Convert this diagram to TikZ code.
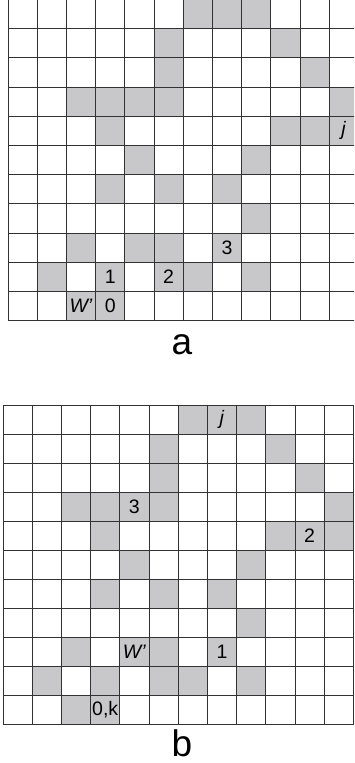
\documentclass[tikz,border=0pt]{standalone}
\usepackage{fontspec}
\setmainfont{Liberation Sans}
\definecolor{cellfill}{RGB}{200,200,202}
\definecolor{gridline}{RGB}{50,50,50}
\tikzset{
  gridstroke/.style={draw=gridline, line width=1pt},
  celllabel/.style={inner sep=0pt, font=\fontsize{19.5}{22}\selectfont},
  captionlabel/.style={inner sep=0pt, font=\fontsize{37}{40}\selectfont},
}
\newcommand{\shadedcells}{6/0,7/0,8/0,5/1,9/1,5/2,10/2,2/3,3/3,4/3,5/3,11/3,3/4,9/4,10/4,11/4,4/5,8/5,3/6,5/6,7/6,8/7,2/8,4/8,5/8,7/8,1/9,3/9,5/9,6/9,8/9,2/10,3/10}
\begin{document}
\begin{tikzpicture}[x=1pt,y=-1pt]
\useasboundingbox (0,0) rectangle (354,763);
\begin{scope}
\clip (0,0) rectangle (354,763);
% grid a
\begin{scope}[shift={(8,-0.6)}, x=29.2pt, y=-29.2pt]
  \foreach \c/\r in \shadedcells {\fill[cellfill] (\c,\r) rectangle ++(1,1);}
  \foreach \i in {0,...,12} {\draw[gridstroke] (\i,0) -- (\i,11);}
  \foreach \j in {0,...,11} {\draw[gridstroke] (0,\j) -- (12,\j);}
  \node[celllabel] (aj) at (11.5,4.5) {\textit{j}};
  \node[celllabel] (athree) at (7.5,8.5) {3};
  \node[celllabel] (aone) at (3.5,9.5) {1};
  \node[celllabel] (atwo) at (5.5,9.5) {2};
  \node[celllabel] (aW) at (2.5,10.5) {\textit{W’}};
  \node[celllabel] (azero) at (3.5,10.5) {0};
\end{scope}
% grid b
\begin{scope}[shift={(3,405)}, x=29.2pt, y=-29.05pt]
  \foreach \c/\r in \shadedcells {\fill[cellfill] (\c,\r) rectangle ++(1,1);}
  \foreach \i in {0,...,12} {\draw[gridstroke] (\i,0) -- (\i,11);}
  \foreach \j in {0,...,11} {\draw[gridstroke] (0,\j) -- (12,\j);}
  \node[celllabel] (bj) at (7.5,0.5) {\textit{j}};
  \node[celllabel] (bthree) at (4.5,3.5) {3};
  \node[celllabel] (btwo) at (10.5,4.5) {2};
  \node[celllabel] (bW) at (4.5,8.5) {\textit{W’}};
  \node[celllabel] (bone) at (7.5,8.5) {1};
  \node[celllabel] (bzerok) at (3.5,10.5) {0,k};
\end{scope}
\end{scope}
\node[captionlabel] (capa) at (182,345) {a};
\node[captionlabel] (capb) at (182,743) {b};
\end{tikzpicture}
\end{document}
